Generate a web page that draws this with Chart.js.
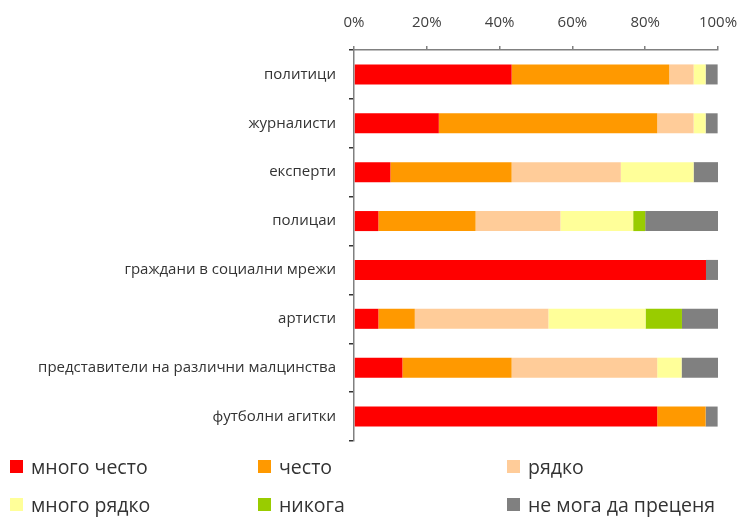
<!DOCTYPE html>
<html>
<head>
<meta charset="utf-8">
<script src="https://cdn.jsdelivr.net/npm/chart.js@4"></script>
<style>
  body { margin: 0; background: #fff; }
  #wrap { position: relative; width: 741px; height: 517px; }
  #legend { position: absolute; left: 0; top: 450px; width: 741px; height: 67px;
    font-family: "Open Sans", sans-serif; font-size: 19.5px; color: #333; }
  .item { position: absolute; display: flex; align-items: center; white-space: nowrap; }
  .box { width: 13px; height: 13px; margin-right: 8px; }
</style>
</head>
<body>
<div id="wrap">
  <canvas id="chart" width="741" height="517"></canvas>
  <div id="legend"></div>
</div>
<script>
const categories = [
  "политици",
  "журналисти",
  "експерти",
  "полицаи",
  "граждани в социални мрежи",
  "артисти",
  "представители на различни малцинства",
  "футболни агитки"
];
const seriesNames = ["много често", "често", "рядко", "много рядко", "никога", "не мога да преценя"];
const colors = ["#FF0000", "#FF9900", "#FFCC99", "#FFFF99", "#99CC00", "#808080"];

const veryOften  = [43.3, 23.3, 10.0,  6.7, 96.7,  6.7, 13.3, 83.3];
const often      = [43.3, 60.0, 33.3, 26.7,  0.0, 10.0, 30.0, 13.3];
const rarely     = [ 6.7, 10.0, 30.0, 23.3,  0.0, 36.7, 40.0,  0.0];
const veryRarely = [ 3.3,  3.3, 20.0, 20.0,  0.0, 26.7,  6.7,  0.0];
const never      = [ 0.0,  0.0,  0.0,  3.3,  0.0, 10.0,  0.0,  0.0];
const cantSay    = [ 3.3,  3.3,  6.7, 20.0,  3.3, 10.0, 10.0,  3.3];

const seriesValues = [veryOften, often, rarely, veryRarely, never, cantSay];

const ctx = document.getElementById("chart").getContext("2d");
new Chart(ctx, {
  type: "bar",
  data: {
    labels: categories,
    datasets: seriesNames.map((name, i) => ({
      label: name,
      data: seriesValues[i],
      backgroundColor: colors[i],
      borderWidth: 0,
      barPercentage: 0.82,
      categoryPercentage: 0.5
    }))
  },
  options: {
    indexAxis: "y",
    responsive: false,
    animation: false,
    layout: { padding: { left: 0, right: 23, top: 0, bottom: 76 } },
    plugins: { legend: { display: false }, tooltip: { enabled: false } },
    scales: {
      x: {
        position: "top",
        stacked: true,
        min: 0,
        max: 100,
        afterFit: s => { s.height = 50; s.paddingLeft = 0; s.paddingRight = 0; },
        ticks: {
          stepSize: 20,
          callback: v => v + "%",
          color: "#404040",
          font: { family: "Open Sans", size: 15 },
          padding: 14
        },
        grid: { drawOnChartArea: false, drawTicks: true, tickLength: 4, color: "#808080", lineWidth: 1.5 },
        border: { color: "#808080", width: 1.5 }
      },
      y: {
        stacked: true,
        afterFit: s => { s.width = 354; },
        ticks: {
          color: "#333",
          font: { family: "Open Sans", size: 15 },
          padding: 13
        },
        grid: { offset: true, drawOnChartArea: false, drawTicks: true, tickLength: 5, color: "#333", lineWidth: 1.5 },
        border: { color: "#808080", width: 1.5 }
      }
    }
  }
});

// legend in three columns, two rows
const legend = document.getElementById("legend");
const colX = [10, 258, 507];
const rowY = [3, 41];
seriesNames.forEach((name, i) => {
  const el = document.createElement("div");
  el.className = "item";
  el.style.left = colX[i % 3] + "px";
  el.style.top = rowY[Math.floor(i / 3)] + "px";
  el.innerHTML = '<span class="box" style="background:' + colors[i] + '"></span>' + name;
  legend.appendChild(el);
});
</script>
</body>
</html>
